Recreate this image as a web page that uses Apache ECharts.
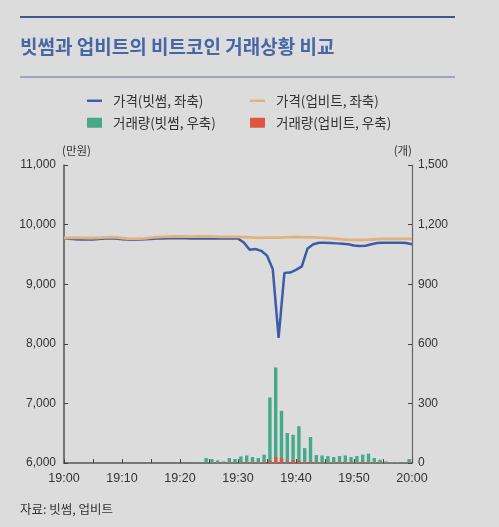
<!DOCTYPE html>
<html><head><meta charset="utf-8">
<script src="https://cdn.jsdelivr.net/npm/echarts@6/dist/echarts.min.js"></script>
<style>html,body{margin:0;padding:0;background:#dcdcdc;}#c{width:499px;height:527px;}</style>
</head><body><div id="c"></div>
<script>
// minutes after 19:00
var minutes = [];
for (var m = 0; m <= 60; m++) minutes.push(m);
var xTickLabels = ['19:00','19:10','19:20','19:30','19:40','19:50','20:00'];

var priceBithumb = [9765,9762,9755,9750,9750,9752,9758,9765,9770,9765,
  9755,9748,9745,9750,9755,9760,9765,9768,9770,9770,
  9770,9770,9768,9768,9768,9768,9768,9768,9768,9768,
  9765,9700,9580,9590,9560,9480,9250,8100,9190,9195,
  9240,9300,9600,9670,9695,9695,9690,9685,9680,9670,
  9650,9640,9645,9670,9690,9695,9695,9695,9695,9690,9670];
var priceUpbit = [9775,9778,9780,9778,9775,9775,9778,9785,9790,9785,
  9775,9765,9760,9765,9770,9780,9790,9795,9798,9800,
  9800,9800,9798,9800,9800,9800,9798,9795,9795,9795,
  9793,9790,9785,9780,9778,9780,9782,9780,9785,9790,
  9795,9790,9788,9785,9780,9778,9770,9760,9752,9748,
  9745,9742,9745,9750,9755,9760,9762,9762,9760,9760,9758];
// volume per one-minute interval (index i = 19:i..19:i+1)
var volBithumb = [0,0,0,0,0,0,0,0,0,0,
  0,0,0,0,0,0,0,0,0,0,
  0,0,0,3,25,20,13,8,25,20,
  33,38,30,25,42,330,481,263,151,142,
  185,75,131,40,38,35,30,35,38,30,
  35,42,47,25,17,8,5,5,3,20];
var volUpbit = [0,0,0,0,0,0,0,0,0,0,
  0,0,0,0,0,0,0,0,0,0,
  0,0,0,0,3,2,2,2,3,2,
  3,4,3,3,5,12,30,25,8,15,
  12,5,6,4,3,3,3,3,3,3,
  3,4,4,3,2,2,1,1,1,3];

var legendNames = ['가격(빗썸, 좌축)','가격(업비트, 좌축)','거래량(빗썸, 우축)','거래량(업비트, 우축)'];
var colors = {blue:'#3d5ca8', orange:'#e2b27e', green:'#46a98a', red:'#e0553f'};

var chart = echarts.init(document.getElementById('c'));
var fontF = '"Noto Sans CJK KR","Noto Sans",sans-serif';
var numF = '"Liberation Sans",Arial,sans-serif';
var lineIcon = 'path://M0,0L16,0L16,2.6L0,2.6Z';
function leg(name, left, top, icon, w, h){
  return {data:[{name:name, icon:icon}], left:left, top:top, itemWidth:w, itemHeight:h,
    itemGap:0, padding:0, selectedMode:false,
    textStyle:{fontSize:13.5, color:'#333', fontFamily:fontF, padding:[0,0,0,6]}};
}
chart.setOption({
  backgroundColor:'#dcdcdc',
  animation:false,
  textStyle:{fontFamily:fontF},
  graphic:[
    {type:'rect', shape:{x:20,y:16,width:435,height:2}, style:{fill:'#3e5894'}},
    {type:'rect', shape:{x:20,y:76.5,width:435,height:1}, style:{fill:'#5a6fa0'}},
    {type:'text', left:20, top:37, style:{text:'빗썸과 업비트의 비트코인 거래상황 비교', fontSize:19, fontWeight:'bold', fill:'#4766a6', fontFamily:fontF}},
    {type:'text', left:20, top:503, style:{text:'자료: 빗썸, 업비트', fontSize:12.5, fill:'#333', fontFamily:fontF}}
  ],
  legend:[
    leg(legendNames[0], 87, 94, lineIcon, 15, 2.6),
    leg(legendNames[1], 250, 94, lineIcon, 15, 2.6),
    leg(legendNames[2], 87, 116, 'rect', 15, 10),
    leg(legendNames[3], 250, 116, 'rect', 15, 10)
  ],
  grid:{left:64, right:87, top:165, bottom:64},
  xAxis:{type:'value', min:0, max:60, interval:5,
    axisLine:{lineStyle:{color:'#555', width:1.5}},
    axisTick:{inside:true, length:4, lineStyle:{color:'#444'}},
    splitLine:{show:false},
    axisLabel:{margin:9, fontSize:12.5, color:'#333', fontFamily:numF, formatter:function(v){ return v%10===0 ? xTickLabels[v/10] : ''; }}
  },
  yAxis:[
    {type:'value', min:6000, max:11000, interval:1000, name:'(만원)', nameGap:9,
      nameTextStyle:{align:'left', fontSize:11.5, color:'#333', padding:[0,0,0,-2]},
      axisLine:{show:true, lineStyle:{color:'#555', width:1.5}},
      axisTick:{show:true, inside:true, length:4, lineStyle:{color:'#444'}},
      splitLine:{show:false},
      axisLabel:{margin:8, fontSize:12, color:'#333', fontFamily:numF, formatter:function(v){return v.toLocaleString('en-US');}}
    },
    {type:'value', min:0, max:1500, interval:300, name:'(개)', nameGap:9, position:'right',
      nameTextStyle:{align:'right', fontSize:11.5, color:'#333'},
      axisLine:{show:true, lineStyle:{color:'#666', width:1.2}},
      axisTick:{show:true, inside:true, length:4, lineStyle:{color:'#444'}},
      splitLine:{show:false},
      axisLabel:{margin:6, fontSize:12, color:'#333', fontFamily:numF, formatter:function(v){return v.toLocaleString('en-US');}}
    }
  ],
  series:[
    {name:legendNames[0], type:'line', yAxisIndex:0, showSymbol:false, symbol:'none', z:3,
      data:minutes.map(function(m,i){return [m, priceBithumb[i]];}),
      lineStyle:{color:colors.blue, width:2.5}, itemStyle:{color:colors.blue}},
    {name:legendNames[1], type:'line', yAxisIndex:0, showSymbol:false, symbol:'none', z:4,
      data:minutes.map(function(m,i){return [m, priceUpbit[i]];}),
      lineStyle:{color:colors.orange, width:2.8}, itemStyle:{color:colors.orange}},
    {name:legendNames[2], type:'bar', yAxisIndex:1, barWidth:3.4, barGap:'-100%', z:2,
      data:volBithumb.map(function(v,i){return [minutes[i]+0.5, v];}),
      itemStyle:{color:colors.green}},
    {name:legendNames[3], type:'bar', yAxisIndex:1, barWidth:3.4, barGap:'-100%', z:2.5,
      data:volUpbit.map(function(v,i){return [minutes[i]+0.5, v];}),
      itemStyle:{color:colors.red}}
  ]
});
</script></body></html>
